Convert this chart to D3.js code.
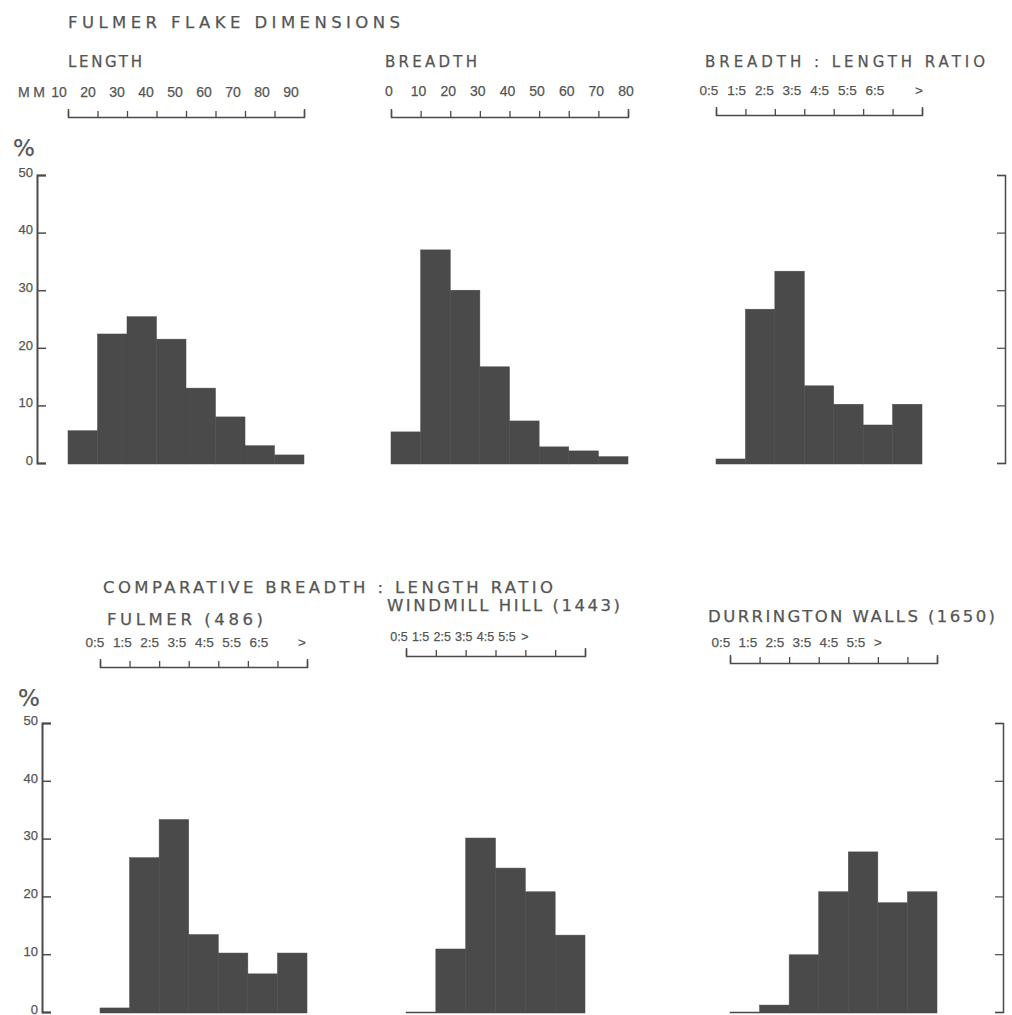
<!DOCTYPE html>
<html>
<head>
<meta charset="utf-8">
<script src="https://cdn.jsdelivr.net/npm/d3@7"></script>
<style>
  body { margin: 0; background: #fff; }
  svg text { font-family: "DejaVu Sans", sans-serif; fill: #555; stroke: #555; stroke-width: 0.25; }
  svg text.num { font-family: "Liberation Sans", sans-serif; }
</style>
</head>
<body>
<svg id="chart" width="1012" height="1015"></svg>
<script>
// Data (percent of flakes per class)
const lengthTicks = ["10", "20", "30", "40", "50", "60", "70", "80", "90"];
const lengthPct = [5.6, 22.4, 25.4, 21.5, 13, 8, 3, 1.4];

const breadthTicks = ["0", "10", "20", "30", "40", "50", "60", "70", "80"];
const breadthPct = [5.4, 37, 30, 16.7, 7.3, 2.8, 2.1, 1.1];

const fulmerRatioTicks = ["0:5", "1:5", "2:5", "3:5", "4:5", "5:5", "6:5", ">"];
const fulmerRatioPct = [0.7, 26.7, 33.3, 13.4, 10.2, 6.6, 10.2];

const windmillTicks = ["0:5", "1:5", "2:5", "3:5", "4:5", "5:5", ">"];
const windmillPct = [0, 10.9, 30.1, 24.9, 20.8, 13.3];

const durringtonTicks = ["0:5", "1:5", "2:5", "3:5", "4:5", "5:5", ">"];
const durringtonPct = [0, 1.2, 9.9, 20.8, 27.7, 18.9, 20.8];

const yTicks = [0, 10, 20, 30, 40, 50];

const svg = d3.select("#chart");
svg.append("rect").attr("width", 1012).attr("height", 1015).attr("fill", "#fff");

const ink = "#4a4a4a";

// hand-lettered headings, stretched to their span in the figure
function label(txt, x, y, size, width) {
  const t = svg.append("text")
    .attr("x", x).attr("y", y)
    .attr("font-size", size)
    .text(txt);
  if (width) t.attr("textLength", width).attr("lengthAdjust", "spacing");
  return t;
}

label("FULMER  FLAKE  DIMENSIONS", 68, 28, 16.5, 332);
label("LENGTH", 68, 67, 15, 74);
label("BREADTH", 385, 67, 15, 92);
label("BREADTH : LENGTH  RATIO", 705, 67, 15, 280);
label("MM", 18, 97, 14, 27).attr("class", "num");

label("COMPARATIVE  BREADTH : LENGTH  RATIO", 103, 593, 16.5, 450);
label("FULMER  (486)", 107, 625, 16.5, 156);
label("WINDMILL  HILL  (1443)", 387, 611, 16.5, 233);
label("DURRINGTON  WALLS  (1650)", 708, 622, 16.5, 287);

// y scales for the two rows
const yTop = d3.scaleLinear().domain([0, 50]).range([463, 175]);
const yBot = d3.scaleLinear().domain([0, 50]).range([1012, 723]);

function yAxis(y, x, pctY) {
  const g = svg.append("g").attr("transform", `translate(${x},0)`)
    .call(d3.axisLeft(y).tickValues(yTicks).tickSize(-9).tickSizeOuter(-9).tickPadding(4));
  g.select(".domain").attr("stroke", ink).attr("stroke-width", 2);
  g.selectAll(".tick line").attr("stroke", ink).attr("stroke-width", 1.5);
  g.selectAll(".tick text").attr("class", "num").attr("font-size", 13)
    .attr("fill", "#555").attr("dy", "0.1em");
  svg.append("text").attr("x", x - 24).attr("y", pctY).attr("font-size", 23).text("%");
}

function rightAxis(y, x) {
  const g = svg.append("g").attr("transform", `translate(${x},0)`)
    .call(d3.axisRight(y).tickValues(yTicks).tickSize(-8).tickSizeOuter(-8).tickFormat(""));
  g.select(".domain").attr("stroke", ink).attr("stroke-width", 1.5);
  g.selectAll(".tick line").attr("stroke", ink).attr("stroke-width", 1.2);
}

yAxis(yTop, 37, 156);
yAxis(yBot, 42, 706);
rightAxis(yTop, 1005);
rightAxis(yBot, 1003);

// one histogram panel: the scale bar on top, its labels and the bars
function panel(opts) {
  const x = d3.scaleLinear().domain([0, opts.nTicks - 1]).range(opts.range);

  // scale bar: ticks up, longer end ticks
  const g = svg.append("g").attr("transform", `translate(0,${opts.barY})`)
    .call(d3.axisTop(x).tickValues(d3.range(opts.nTicks))
      .tickSize(6).tickSizeOuter(8).tickFormat(""));
  g.select(".domain").attr("stroke", ink).attr("stroke-width", 1.5);
  g.selectAll(".tick line").attr("stroke", ink).attr("stroke-width", 1.3);

  // tick labels (hand-drawn, not exactly over the ticks)
  const nums = opts.more ? opts.ticks.slice(0, -1) : opts.ticks;
  const lx = d3.scaleLinear().domain([0, nums.length - 1]).range(opts.labels);
  svg.append("g").selectAll("text")
    .data(nums)
    .join("text")
      .attr("class", "num")
      .attr("x", (d, i) => lx(i))
      .attr("y", opts.labelY)
      .attr("text-anchor", "middle")
      .attr("font-size", opts.fs)
      .text(d => d);
  if (opts.more) {
    svg.append("text").attr("class", "num")
      .attr("x", opts.more).attr("y", opts.labelY)
      .attr("text-anchor", "middle").attr("font-size", opts.fs)
      .text(opts.ticks[opts.ticks.length - 1]);
  }

  svg.append("g").selectAll("rect")
    .data(opts.values)
    .join("rect")
      .attr("x", (d, i) => x(i))
      .attr("width", (d, i) => x(i + 1) - x(i))
      .attr("y", d => opts.y(d))
      .attr("height", d => opts.y(0) - opts.y(d) + 1)
      .attr("fill", ink)
      .attr("stroke", ink)
      .attr("stroke-width", 0.5);
}

panel({ ticks: lengthTicks, nTicks: 9, values: lengthPct, fs: 14,
  range: [68, 304], barY: 117, labelY: 97, labels: [59, 291], y: yTop });
panel({ ticks: breadthTicks, nTicks: 9, values: breadthPct, fs: 14,
  range: [391, 628], barY: 117, labelY: 96, labels: [389, 626], y: yTop });
panel({ ticks: fulmerRatioTicks, nTicks: 8, values: fulmerRatioPct, fs: 13.5,
  range: [716, 922], barY: 115, labelY: 95, labels: [709, 875], more: 919, y: yTop });

panel({ ticks: fulmerRatioTicks, nTicks: 8, values: fulmerRatioPct, fs: 13.5,
  range: [100, 307], barY: 667, labelY: 647, labels: [95, 259], more: 302, y: yBot });
panel({ ticks: windmillTicks, nTicks: 7, values: windmillPct, fs: 12.5,
  range: [406, 585], barY: 656, labelY: 641, labels: [399, 507], more: 525, y: yBot });
panel({ ticks: durringtonTicks, nTicks: 8, values: durringtonPct, fs: 13.5,
  range: [730, 937], barY: 663, labelY: 647, labels: [721, 856], more: 878, y: yBot });
</script>
</body>
</html>
